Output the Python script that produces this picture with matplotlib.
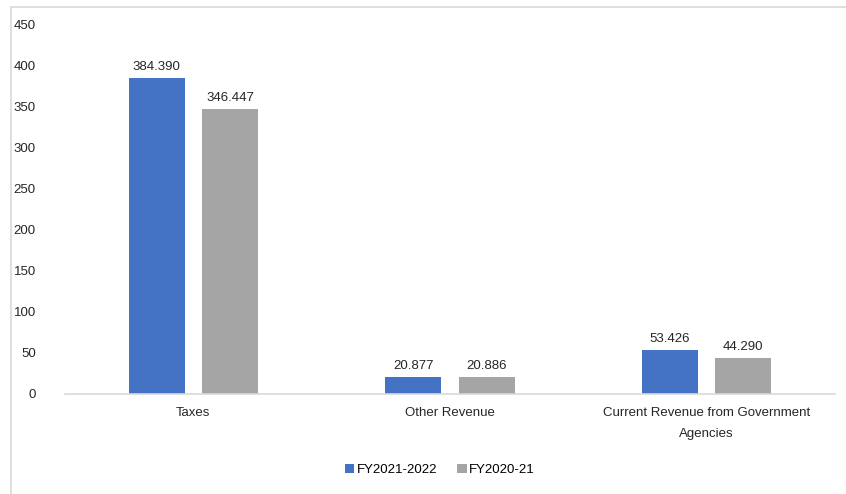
import numpy as np
import matplotlib.pyplot as plt
from matplotlib.patches import Rectangle

categories = ['Taxes', 'Other Revenue', 'Current Revenue from Government\nAgencies']
fy2122 = [384.390, 20.877, 53.426]
fy2021 = [346.447, 20.886, 44.290]
series_names = ['FY2021-2022', 'FY2020-21']
yticks = [0, 50, 100, 150, 200, 250, 300, 350, 400, 450]

plt.rcParams['font.family'] = ['Liberation Sans Narrow', 'Liberation Sans', 'DejaVu Sans']
plt.rcParams['font.size'] = 9.5

fig = plt.figure(figsize=(8.46, 4.94), dpi=100)
# outer chart frame (only top/left visible)
fig.patches.append(Rectangle((11/846, -0.1), 1.2, 1 - 7/494 + 0.1, transform=fig.transFigure,
                             fill=False, edgecolor='#d9d9d9', linewidth=1.2))
ax = fig.add_axes([65/846, 1 - 394/494, 770/846, 370/494])

x = np.arange(len(categories))
w = 0.218
off = 0.143
b1 = ax.bar(x - off, fy2122, w, color='#4472C4', label=series_names[0])
b2 = ax.bar(x + off, fy2021, w, color='#A5A5A5', label=series_names[1])

for bars, vals in ((b1, fy2122), (b2, fy2021)):
    for r, v in zip(bars, vals):
        ax.annotate('%.3f' % v, (r.get_x() + r.get_width() / 2, v), xytext=(0, 3.5),
                    textcoords='offset points', ha='center', va='bottom', color='#262626')

ax.set_xlim(-0.5, 2.5)
ax.set_ylim(0, 450)
ax.set_yticks(yticks)
ax.set_xticks(x)
ax.set_xticklabels(categories, linespacing=2.0)
for s in ['top', 'right', 'left']:
    ax.spines[s].set_visible(False)
ax.spines['bottom'].set_color('#d9d9d9')
ax.spines['bottom'].set_linewidth(1.2)
ax.tick_params(axis='both', length=0, colors='#262626')
ax.tick_params(axis='y', pad=21)
ax.tick_params(axis='x', pad=9)

ax.legend(loc='center', bbox_to_anchor=(440/846, 1 - 470/494), bbox_transform=fig.transFigure,
          ncol=2, frameon=False, handlelength=0.7, handleheight=0.7, handletextpad=0.2,
          columnspacing=1.5)

plt.savefig('out.png', dpi=100)
